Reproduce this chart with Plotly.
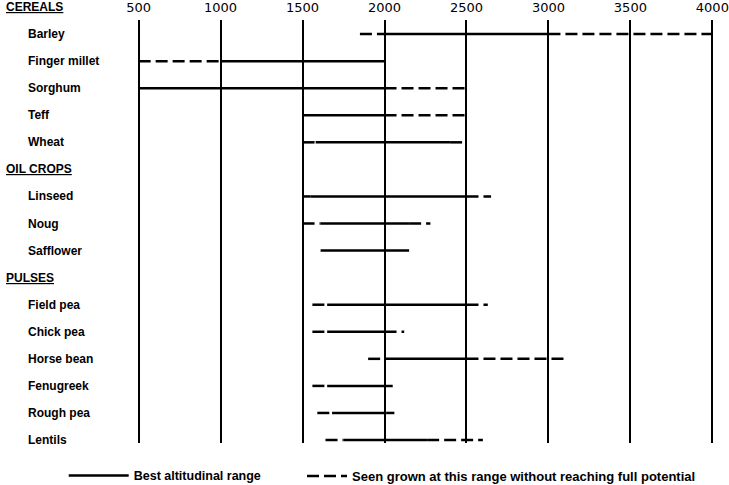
import plotly.graph_objects as go

# ---- data -------------------------------------------------------------
groups = ["CEREALS", "OIL CROPS", "PULSES"]
crops = ["Barley", "Finger millet", "Sorghum", "Teff", "Wheat",
         "Linseed", "Noug", "Safflower",
         "Field pea", "Chick pea", "Horse bean", "Fenugreek", "Rough pea", "Lentils"]
crop_group = ["CEREALS"] * 5 + ["OIL CROPS"] * 3 + ["PULSES"] * 6

best_low  = [2000, 1000,  500, 1500, 1580, 1550, 1610, 1610, 1650, 1650, 2000, 1650, 1680, 1750]
best_high = [3000, 2000, 2000, 2000, 2400, 2500, 2150, 2150, 2500, 2000, 2500, 2050, 2010, 2260]
seen_low  = [1850,  500,  500, 1500, 1500, 1500, 1500, 1610, 1560, 1560, 1900, 1560, 1590, 1640]
seen_high = [4000, 2000, 2500, 2500, 2500, 2650, 2280, 2150, 2630, 2120, 3100, 2050, 2060, 2600]

altitude_ticks = [500, 1000, 1500, 2000, 2500, 3000, 3500, 4000]

legend_best = "Best altitudinal range"
legend_seen = "Seen grown at this range without reaching full potential"

# ---- row order (group headers interleaved) ------------------------------
rows = []
for g in groups:
    rows.append(g)
    rows.extend([c for c, cg in zip(crops, crop_group) if cg == g])

# ---- build segments -----------------------------------------------------
sx, sy, dx, dy = [], [], [], []
for c, bl, bh, lo, hi in zip(crops, best_low, best_high, seen_low, seen_high):
    sx += [bl, bh, None]
    sy += [c, c, None]
    if lo < bl:
        dx += [lo, bl, None]
        dy += [c, c, None]
    if hi > bh:
        dx += [bh, hi, None]
        dy += [c, c, None]

fig = go.Figure()
fig.add_trace(go.Scatter(x=sx, y=sy, mode="lines", name=legend_best, legend="legend",
                         line=dict(color="black", width=2.5), connectgaps=False,
                         hoverinfo="skip"))
fig.add_trace(go.Scatter(x=dx, y=dy, mode="lines", name=legend_seen, legend="legend2",
                         line=dict(color="black", width=2.5, dash="12px,5px"),
                         connectgaps=False, hoverinfo="skip"))

label_font = dict(family="Liberation Sans", size=12, color="black", weight="bold")

for r in rows:
    if r == rows[0]:
        # first header sits above the plotting area
        fig.add_annotation(x=0, xref="paper", y=1, yref="paper", yshift=13,
                           yanchor="middle", text=f"<u>{r}</u>",
                           showarrow=False, xanchor="left", xshift=-133,
                           font=label_font)
    elif r in groups:
        fig.add_annotation(x=0, xref="paper", y=r, yref="y", text=f"<u>{r}</u>",
                           showarrow=False, xanchor="left", xshift=-133,
                           font=label_font)
    else:
        fig.add_annotation(x=0, xref="paper", y=r, yref="y", text=r,
                           showarrow=False, xanchor="left", xshift=-111,
                           font=label_font)

fig.update_layout(
    width=729, height=485,
    margin=dict(l=137, r=15, t=20, b=42, autoexpand=False),
    paper_bgcolor="white", plot_bgcolor="white",
    showlegend=True,
    legend=dict(orientation="h", x=-0.127, xanchor="left", y=-0.078, yanchor="middle",
                font=dict(family="Liberation Sans", size=12.5, color="black", weight="bold"),
                itemwidth=60, bgcolor="rgba(0,0,0,0)"),
    legend2=dict(orientation="h", x=0.286, xanchor="left", y=-0.078, yanchor="middle",
                 font=dict(family="Liberation Sans", size=13, color="black", weight="bold"),
                 itemwidth=40, bgcolor="rgba(0,0,0,0)"),
    xaxis=dict(side="top", range=[490, 4010], tickvals=altitude_ticks,
               ticktext=[str(v) for v in altitude_ticks],
               showgrid=True, gridcolor="black", gridwidth=2,
               zeroline=False, showline=False, ticks="", automargin=False,
               ticklabelstandoff=4,
               tickfont=dict(family="DejaVu Sans", size=13, color="black")),
    yaxis=dict(type="category", categoryorder="array", categoryarray=rows,
               range=[len(rows) - 1 + 0.11, 0.48],
               showticklabels=False, showgrid=False, zeroline=False,
               showline=False, ticks="", automargin=False),
)

fig.write_html("out.html", config={"displayModeBar": False},
               post_script="document.body.style.margin='0';document.body.style.overflow='hidden';")
